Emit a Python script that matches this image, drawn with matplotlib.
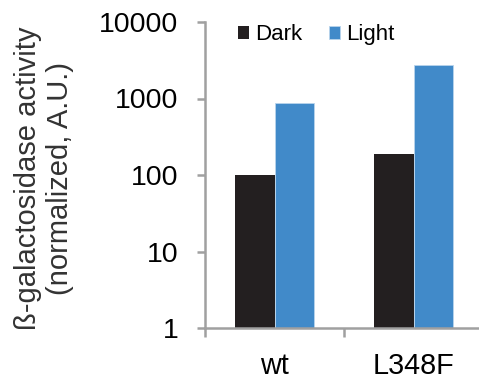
import matplotlib
matplotlib.use("Agg")
import matplotlib.pyplot as plt
import numpy as np

plt.rcParams['font.family'] = ['Liberation Sans', 'DejaVu Sans']

categories = ["wt", "L348F"]
dark = [98, 186]
light = [865, 2770]
series_names = ["Dark", "Light"]
colors = ["#231f20", "#418ac9"]

fig = plt.figure(figsize=(4.79, 3.77), dpi=100)
W, H = 479, 377
ax = fig.add_axes([205 / W, (H - 328) / H, 278 / W, 306 / H])

x = np.arange(len(categories))
bw = 0.283
ax.bar(x - bw / 2, dark, bw, color=colors[0], label=series_names[0], bottom=1)
ax.bar(x + bw / 2, light, bw, color=colors[1], label=series_names[1], bottom=1,
       edgecolor="#b9d4ec", linewidth=0.6)

ax.set_yscale("log")
ax.set_ylim(1, 10000)
ax.set_xlim(-0.5, 1.5)
ax.set_yticks([1, 10, 100, 1000, 10000])
ax.set_yticklabels(["1", "10", "100", "1000", "10000"])
ax.yaxis.set_minor_locator(matplotlib.ticker.NullLocator())
ax.set_xticks(x)
ax.set_xticklabels(categories)
ax.set_xticks([-0.5, 0.5, 1.5], minor=True)

spine_c = "#a0a0a0"
for s in ["top", "right"]:
    ax.spines[s].set_visible(False)
for s in ["left", "bottom"]:
    ax.spines[s].set_color(spine_c)
    ax.spines[s].set_linewidth(1.8)

ax.tick_params(axis="y", which="major", direction="out", length=6, width=1.8,
               color=spine_c, labelsize=20.5, pad=13)
ax.tick_params(axis="x", which="major", length=0, labelsize=20.8, pad=17.5)
ax.tick_params(axis="x", which="minor", direction="out", length=6.5, width=1.8,
               color=spine_c)

ax.set_ylabel("ß-galactosidase activity\n(normalized, A.U.)", fontsize=21,
              color="#333333", linespacing=1.2)
ax.yaxis.set_label_coords(-0.47, 0.49)

leg = ax.legend(loc="upper left", bbox_to_anchor=(0.119, 0.993), ncol=2,
                frameon=False, fontsize=16, handlelength=0.5, handleheight=0.5,
                handletextpad=0.27, columnspacing=1.2, borderaxespad=0,
                borderpad=0)

fig.savefig("out.png", dpi=100)
